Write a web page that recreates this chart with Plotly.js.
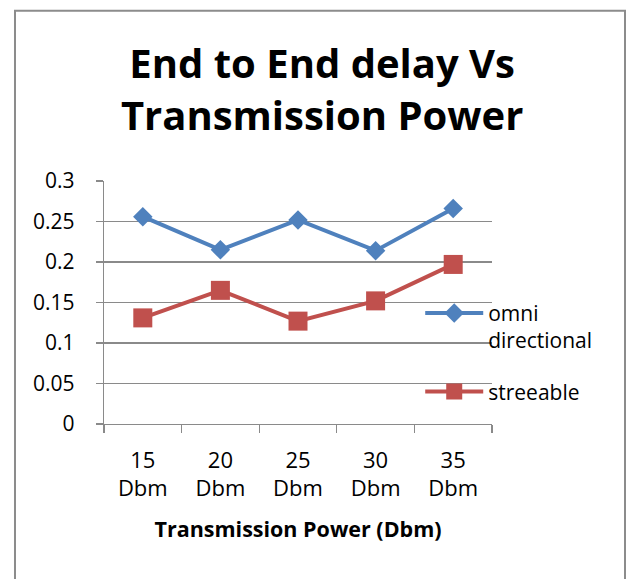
<!DOCTYPE html>
<html>
<head>
<meta charset="utf-8">
<script src="https://cdn.plot.ly/plotly-3.0.1.min.js"></script>
<style>
  html, body { margin: 0; padding: 0; background: #ffffff; }
  #chart { width: 628px; height: 579px; }
</style>
</head>
<body>
<div id="chart"></div>
<script>
// ---- data ----
const categories = ["15<br>Dbm", "20<br>Dbm", "25<br>Dbm", "30<br>Dbm", "35<br>Dbm"];
const omniDirectional = [0.256, 0.215, 0.252, 0.214, 0.266];
const streeable = [0.131, 0.165, 0.127, 0.152, 0.197];
const seriesNames = ["omni<br>directional", "streeable"];
const chartTitle = "End to End delay Vs<br>Transmission Power";
const xAxisTitle = "Transmission Power (Dbm)";

const FONT = "'Open Sans', 'Noto Sans', sans-serif";
const GRID = "#8a8a8a";

const traces = [
  {
    x: categories, y: omniDirectional, name: seriesNames[0],
    type: "scatter", mode: "lines+markers",
    line: { color: "#4F81BD", width: 4 },
    marker: { symbol: "diamond", size: 15, color: "#4F81BD" },
    legendgroup: "a"
  },
  {
    x: categories, y: streeable, name: seriesNames[1],
    type: "scatter", mode: "lines+markers",
    line: { color: "#C0504D", width: 4 },
    marker: { symbol: "square", size: 19, color: "#C0504D" },
    legendgroup: "b"
  }
];

const layout = {
  width: 628, height: 579,
  margin: { l: 104, r: 136, t: 181, b: 155, pad: 0 },
  paper_bgcolor: "#ffffff", plot_bgcolor: "rgba(0,0,0,0)",
  font: { family: FONT, size: 21, color: "#000000" },
  title: {
    text: chartTitle,
    font: { family: FONT, size: 40, color: "#000000", weight: "bold" },
    xref: "container", x: 0.513, xanchor: "center",
    yref: "container", y: 0.865, yanchor: "middle"
  },
  xaxis: {
    type: "category",
    range: [-0.5, 4.5],
    tickson: "boundaries",
    ticks: "outside", ticklen: 8, tickcolor: GRID, tickwidth: 1.3,
    showline: true, linecolor: GRID, linewidth: 1.3,
    showgrid: false, zeroline: false,
    ticklabelstandoff: 16,
    tickfont: { family: FONT, size: 22, color: "#000000" },
    title: { text: xAxisTitle, font: { family: FONT, size: 21.5, color: "#000000", weight: "bold" }, standoff: 20 },
    fixedrange: true
  },
  yaxis: {
    range: [0, 0.3], dtick: 0.05, tick0: 0,
    ticks: "outside", ticklen: 7, tickcolor: GRID, tickwidth: 1.3,
    showline: true, linecolor: GRID, linewidth: 1.3,
    showgrid: true, gridcolor: GRID, gridwidth: 1.3,
    zeroline: false,
    ticklabelstandoff: 17,
    tickfont: { family: FONT, size: 21, color: "#000000" },
    fixedrange: true
  },
  showlegend: true,
  legend: {
    x: 0.815, xanchor: "left", y: 0.54, yanchor: "top",
    bgcolor: "rgba(0,0,0,0)", borderwidth: 0,
    font: { family: FONT, size: 21, color: "#000000" },
    itemwidth: 58, valign: "top", tracegroupgap: 21
  },
  shapes: [
    {
      type: "rect", xref: "paper", yref: "paper",
      x0: -0.2294, x1: 1.3428, y0: -0.70, y1: 1.7007,
      line: { color: "#8c8c8c", width: 2 }, fillcolor: "rgba(0,0,0,0)", layer: "below"
    }
  ]
};

Plotly.newPlot("chart", traces, layout, { displayModeBar: false, staticPlot: true });
</script>
</body>
</html>
